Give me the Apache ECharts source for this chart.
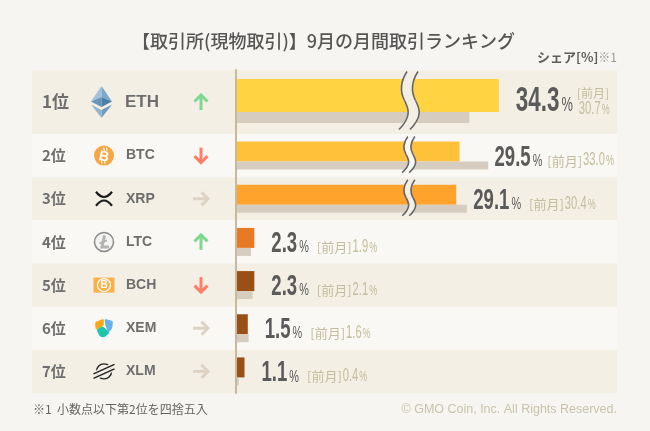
<!DOCTYPE html>
<html>
<head>
<meta charset="utf-8">
<style>
  html, body { margin: 0; padding: 0; background: #f6f5f1; }
  #chart { width: 650px; height: 431px; }
</style>
<script src="https://cdn.jsdelivr.net/npm/echarts@6/dist/echarts.min.js"></script>
</head>
<body>
<div id="chart"></div>
<script>
const ranks = ['1位', '2位', '3位', '4位', '5位', '6位', '7位']
const symbols = ['ETH', 'BTC', 'XRP', 'LTC', 'BCH', 'XEM', 'XLM']
const shareNow = [34.3, 29.5, 29.1, 2.3, 2.3, 1.5, 1.1]
const sharePrev = [30.7, 33.0, 30.4, 1.9, 2.1, 1.6, 0.4]
const trends = ['up', 'down', 'flat', 'up', 'down', 'flat', 'flat']
const axisBreak = [21, 23.15]

const barColors = ['#ffd342', '#ffc03a', '#ffa32c', '#e67a25', '#994f15', '#994f15', '#994f15']
const trendColors = { up: '#7fd88f', down: '#ff7f66', flat: '#ddd3c3' }
const bandDark = '#f3efe5'
const bandLight = '#f9f8f4'
const numFont = '"Liberation Sans"'
const jpFont = '"Noto Sans CJK JP"'
const narrow = 0.64

const measure = document.createElement('canvas').getContext('2d')
function textWidth(text, font) {
  measure.font = font
  return measure.measureText(text).width
}

function txt(text, x, y, font, fill, extra) {
  return Object.assign({
    type: 'text', x, y,
    style: { text, font, fill, textAlign: 'left', textVerticalAlign: 'middle' }
  }, extra)
}

function poly(points, fill, smooth) {
  return { type: 'polygon', shape: { points, smooth: smooth || 0 }, style: { fill } }
}

function line(points, stroke, lineWidth) {
  return { type: 'polyline', shape: { points }, style: { stroke, lineWidth, fill: 'none' } }
}

function curve(s, stroke, lineWidth) {
  return { type: 'bezierCurve', shape: s, style: { stroke, lineWidth, fill: 'none' } }
}

function at(cx, cy, children) {
  return { type: 'group', x: cx, y: cy, children }
}

// crypto logos, roughly hand drawn around 0,0
function iconShapes(sym) {
  if (sym === 'ETH') return [
    poly([[0, -16], [-10.5, -0.5], [0, -5]], '#a3c1d8'),
    poly([[0, -16], [10.5, -0.5], [0, -5]], '#7ea8c7'),
    poly([[-10.5, -0.5], [0, 5], [0, -5]], '#6496bb'),
    poly([[10.5, -0.5], [0, 5], [0, -5]], '#4a80a8'),
    poly([[-10.5, 2.5], [0, 8], [0, 16]], '#93b6d0'),
    poly([[10.5, 2.5], [0, 8], [0, 16]], '#6f9bbf')
  ]
  if (sym === 'BTC') return [
    { type: 'circle', shape: { r: 10 }, style: { fill: '#f7a643' } },
    txt('B', -5, 0.5, 'bold 14px ' + numFont, '#fff', { rotation: -0.2 }),
    line([[-0.5, -8], [0.5, -5]], '#fff', 1.2),
    line([[2.5, -8], [3, -5]], '#fff', 1.2),
    line([[-2.5, 5], [-2, 8]], '#fff', 1.2),
    line([[0.5, 5], [1, 8]], '#fff', 1.2)
  ]
  if (sym === 'XRP') return [
    curve({ x1: -8, y1: -7, cpx1: 0, cpy1: 3.5, x2: 8, y2: -7 }, '#1c1c1c', 2.2),
    curve({ x1: -8, y1: 7, cpx1: 0, cpy1: -3.5, x2: 8, y2: 7 }, '#1c1c1c', 2.2)
  ]
  if (sym === 'LTC') return [
    { type: 'circle', shape: { r: 9.5 }, style: { fill: '#f4f4f2', stroke: '#8c8c8c', lineWidth: 1.5 } },
    line([[0.5, -6.5], [-2, 5], [5, 5]], '#b4b4b4', 3),
    line([[-4.5, 1.5], [3, -1.5]], '#b4b4b4', 2)
  ]
  if (sym === 'BCH') return [
    { type: 'rect', shape: { x: -10.5, y: -7.5, width: 21, height: 15 }, style: { fill: '#fbb04a' } },
    { type: 'circle', shape: { r: 6.5 }, style: { fill: '#fbb04a', stroke: '#fff', lineWidth: 1.2 } },
    txt('B', -3.5, 0.5, 'bold 10px ' + numFont, '#fff')
  ]
  if (sym === 'XEM') return [
    poly([[-8.5, -6], [-0.5, -9], [-0.5, -3], [-4.5, 0], [-8, 1]], '#f7a81b', 0.2),
    poly([[1, -9], [8.5, -7], [8, 0], [4.5, 4], [1.5, -3]], '#67b2e8', 0.2),
    poly([[-7, 1.5], [-1, -1.5], [5, 4.5], [0, 9], [-4, 8]], '#1fc4ae', 0.2)
  ]
  if (sym === 'XLM') return [
    { type: 'circle', shape: { r: 7.5 }, style: { fill: 'none', stroke: '#222', lineWidth: 1.4 } },
    line([[-10.5, 2.5], [10.5, -7]], bandDark, 4),
    line([[-10.5, 7], [10.5, -2.5]], bandDark, 4),
    line([[-10.5, 2.5], [10.5, -7]], '#222', 1.5),
    line([[-10.5, 7], [10.5, -2.5]], '#222', 1.5)
  ]
  return []
}

function arrowShapes(trend) {
  const c = trendColors[trend]
  if (trend === 'up') return [line([[0, 8], [0, -7]], c, 3), line([[-6.5, -0.5], [0, -7], [6.5, -0.5]], c, 3)]
  if (trend === 'down') return [line([[0, -8], [0, 7]], c, 3), line([[-6.5, 0.5], [0, 7], [6.5, 0.5]], c, 3)]
  return [line([[-8, 0], [7, 0]], c, 3), line([[0.5, -6.5], [7, 0], [0.5, 6.5]], c, 3)]
}

// the S shaped cut over a broken bar
function squiggle(h, sx, gap, bg) {
  const seg = (dx, stroke, w) => [
    curve({ x1: 4 * sx + dx, y1: -h / 2, cpx1: -3.5 * sx + dx, cpy1: -h * 0.3, cpx2: -3 * sx + dx, cpy2: -h * 0.15, x2: 1.5 * sx + dx, y2: 0 }, stroke, w),
    curve({ x1: 1.5 * sx + dx, y1: 0, cpx1: 6 * sx + dx, cpy1: h * 0.15, cpx2: 8.5 * sx + dx, cpy2: h * 0.28, x2: -4 * sx + dx, y2: h / 2 }, stroke, w)
  ]
  return [].concat(seg(0, bg, gap), seg(-gap / 2, '#666', 1.6), seg(gap / 2, '#666', 1.6))
}

function bandSeries(xAxisIndex, start, count) {
  return {
    type: 'custom', xAxisIndex, yAxisIndex: xAxisIndex, z: 0, silent: true,
    data: symbols.slice(start, start + count).map((s, i) => [0, i]),
    encode: { x: 0, y: 1 },
    renderItem(params, api) {
      const y = api.coord([0, params.dataIndex])[1]
      const h = api.size([0, 1])[1]
      const row = start + params.dataIndex
      return {
        type: 'rect',
        shape: { x: 32, y: y - h / 2, width: 585, height: h },
        style: { fill: row % 2 === 0 ? bandDark : bandLight }
      }
    }
  }
}

function rowSeries(xAxisIndex, start, count) {
  return {
    type: 'custom', xAxisIndex, yAxisIndex: xAxisIndex, z: 5, silent: true,
    data: shareNow.slice(start, start + count).map((v, i) => [v, i]),
    encode: { x: 0, y: 1 },
    renderItem(params, api) {
      const row = start + params.dataIndex
      const first = row === 0
      const end = api.coord([shareNow[row], params.dataIndex])
      const cy = end[1]
      const bg = row % 2 === 0 ? bandDark : bandLight
      const children = [
        txt(ranks[row], 42, cy, 'bold ' + (first ? 17 : 15) + 'px ' + jpFont, '#6e6e6e'),
        at(first ? 101.5 : 104, cy, iconShapes(symbols[row])),
        txt(symbols[row], first ? 125 : 126, cy, 'bold ' + (first ? 17 : 14) + 'px ' + numFont, '#6e6e6e'),
        at(201, cy, arrowShapes(trends[row]))
      ]

      if (shareNow[row] > axisBreak[1]) {
        const bx = api.coord([axisBreak[0], params.dataIndex])[0]
        children.push(at(bx + 1, cy + (first ? -1.5 : -1), first ? squiggle(58, 1, 11, bg) : squiggle(36, 0.7, 7, bg)))
      }

      // row 2's previous bar is the long one, so its label sits tight against it
      const vx = end[0] + (row === 1 ? 35 : 17)
      const vSize = first ? 35 : 29
      const pSize = first ? 20 : 17
      const vFont = 'bold ' + vSize + 'px ' + numFont
      const pFont = pSize + 'px ' + numFont
      const value = shareNow[row].toFixed(1)
      const px = vx + textWidth(value, vFont) * narrow + 2
      const pctEnd = px + textWidth('%', pFont) * narrow
      const prevFont = '17.5px ' + numFont
      const prev = sharePrev[row].toFixed(1)
      const prevPct = '14px ' + numFont
      const vy = cy + (first ? -1 : 2)
      children.push(
        txt(value, vx, vy, vFont, '#5a5a5a', { scaleX: narrow }),
        txt('%', px, vy + (first ? 4.5 : 3.5), pFont, '#5a5a5a', { scaleX: narrow })
      )

      const gold = '#c4bc9c'
      if (first) {
        children.push(txt('[前月]', pctEnd + 4, cy - 9, '12px ' + jpFont, gold))
        const ny = cy + 7
        const nx = pctEnd + 6
        children.push(
          txt(prev, nx, ny, prevFont, gold, { scaleX: narrow }),
          txt('%', nx + textWidth(prev, prevFont) * narrow + 1, ny + 1, prevPct, gold, { scaleX: narrow })
        )
      } else {
        const tx = pctEnd + (row === 1 ? 5 : 8)
        const tw = textWidth('[前月]', '13px ' + jpFont)
        const ny = cy + 5
        const nx = tx + tw + 1
        children.push(
          txt('[前月]', tx, ny, '13px ' + jpFont, gold),
          txt(prev, nx, ny, prevFont, gold, { scaleX: narrow }),
          txt('%', nx + textWidth(prev, prevFont) * narrow + 1, ny + 1, prevPct, gold, { scaleX: narrow })
        )
      }
      return { type: 'group', children }
    }
  }
}

function barSeries(xAxisIndex, start, count, nowWidth, prevWidth) {
  return [
    {
      type: 'bar', xAxisIndex, yAxisIndex: xAxisIndex, z: 2, barWidth: nowWidth, barGap: 0, silent: true,
      data: shareNow.slice(start, start + count).map((v, i) => ({
        value: v, itemStyle: { color: barColors[start + i] }
      }))
    },
    {
      type: 'bar', xAxisIndex, yAxisIndex: xAxisIndex, z: 2, barWidth: prevWidth, barGap: 0, silent: true,
      data: sharePrev.slice(start, start + count),
      itemStyle: { color: '#d6cdc0' }
    }
  ]
}

function xAxisFor(gridIndex) {
  return {
    type: 'value', gridIndex, min: 0, max: 45, show: false,
    breaks: [{ start: axisBreak[0], end: axisBreak[1], gap: 0 }],
    breakArea: { show: false }
  }
}

function yAxisFor(gridIndex, cats) {
  return {
    type: 'category', gridIndex, data: cats, inverse: true, z: 3,
    axisTick: { show: false },
    axisLabel: { show: false },
    axisLine: { show: true, lineStyle: { color: '#c4ba9c', width: 2 } }
  }
}

const chart = echarts.init(document.getElementById('chart'))
chart.setOption({
  animation: false,
  backgroundColor: '#f6f5f1',
  title: {
    text: '【取引所(現物取引)】9月の月間取引ランキング',
    left: 127, top: 27,
    textStyle: { fontFamily: jpFont, fontSize: 18, fontWeight: 500, color: '#555' }
  },
  grid: [
    { left: 235.5, top: 70, width: 351, height: 64 },
    { left: 235.5, top: 134, width: 351, height: 259 }
  ],
  xAxis: [xAxisFor(0), xAxisFor(1)],
  yAxis: [yAxisFor(0, symbols.slice(0, 1)), yAxisFor(1, symbols.slice(1))],
  series: [
    bandSeries(0, 0, 1),
    bandSeries(1, 1, 6),
    ...barSeries(0, 0, 1, 33, 11),
    // empty 2px slot, nudges the first row's bars up to where they sit in the picture
    { type: 'bar', xAxisIndex: 0, yAxisIndex: 0, barWidth: 2, barGap: 0, silent: true, data: [0] },
    ...barSeries(1, 1, 6, 20, 8),
    rowSeries(0, 0, 1),
    rowSeries(1, 1, 6)
  ],
  graphic: [
    {
      type: 'text', right: 33, top: 51,
      style: {
        text: '{a|シェア[%]}{b|※1}',
        rich: {
          a: { font: 'bold 13px ' + jpFont, fill: '#5e5e5e' },
          b: { font: '12px ' + jpFont, fill: '#999' }
        }
      }
    },
    {
      type: 'text', left: 33, top: 403,
      style: { text: '※1  小数点以下第2位を四捨五入', font: '12px ' + jpFont, fill: '#666' }
    },
    {
      type: 'text', right: 33, top: 403,
      style: { text: '© GMO Coin, Inc. All Rights Reserved.', font: '12.5px "Liberation Sans"', fill: '#c9c3ae' }
    }
  ]
})
</script>
</body>
</html>
